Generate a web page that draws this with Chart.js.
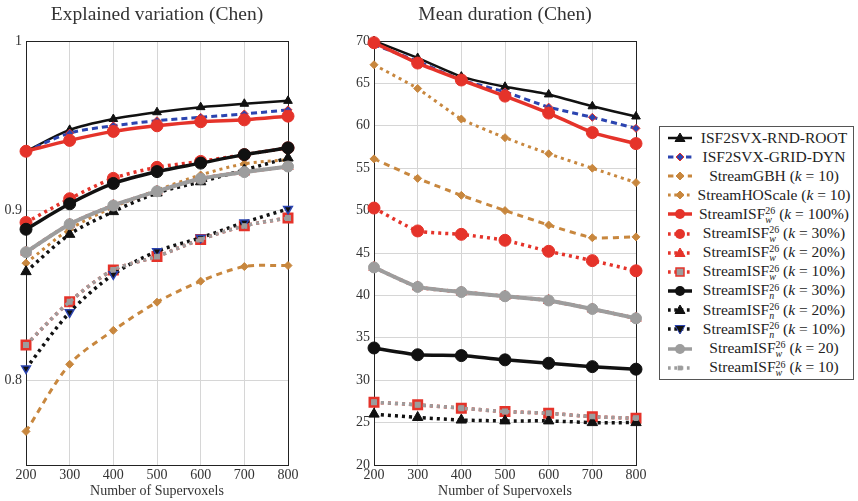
<!DOCTYPE html>
<html>
<head>
<meta charset="utf-8">
<script src="https://cdn.jsdelivr.net/npm/chart.js@4.4.0/dist/chart.umd.min.js"></script>
<style>
body{margin:0;width:858px;height:501px;background:#fff;position:relative;overflow:hidden;font-family:"Liberation Serif",serif;}
.wrap{position:absolute;top:0;height:501px;}
#legend{position:absolute;left:659px;top:126px;width:193px;border:1px solid #555;background:#fff;z-index:2;padding:1px 0 2px 0;}
.row{height:19.2px;display:flex;align-items:center;}
.row svg{margin-left:7px;flex:none;}
.row .t{flex:1;text-align:center;font-size:15.5px;color:#222;white-space:nowrap;padding-left:2px;}
.ss{display:inline-block;vertical-align:-4px;font-size:10px;line-height:8.5px;text-align:left;}
.ss i{display:block;}
.ss .up{font-style:normal;}
</style>
</head>
<body>
<div class="wrap" style="left:0;width:314px;"><canvas id="varChart" width="314" height="501"></canvas></div>
<div class="wrap" style="left:338px;width:334px;"><canvas id="durChart" width="334" height="501"></canvas></div>
<div id="legend"></div>
<script>
// x values and tick labels
let supervoxels = [200, 300, 400, 500, 600, 700, 800];
let varTicks = [0.8, 0.9, 1];
let durTicks = [20, 25, 30, 35, 40, 45, 50, 55, 60, 65, 70];

let seriesNames = [
    'ISF2SVX-RND-ROOT', 'ISF2SVX-GRID-DYN', 'StreamGBH (k = 10)', 'StreamHOScale (k = 10)',
    'StreamISF_w^26 (k = 100%)', 'StreamISF_w^26 (k = 30%)', 'StreamISF_w^26 (k = 20%)', 'StreamISF_w^26 (k = 10%)',
    'StreamISF_n^26 (k = 30%)', 'StreamISF_n^26 (k = 20%)', 'StreamISF_n^26 (k = 10%)',
    'StreamISF_w^26 (k = 20)', 'StreamISF_w^26 (k = 10)'
];

// explained variation (left)
let varRndRoot = [0.935, 0.9476, 0.954, 0.958, 0.961, 0.963, 0.9647];
let varGridDyn = [0.935, 0.9457, 0.950, 0.953, 0.955, 0.957, 0.9594];
let varGbh = [0.7698, 0.8094, 0.8294, 0.846, 0.8584, 0.867, 0.8676];
let varHoScale = [0.869, 0.889, 0.902, 0.912, 0.921, 0.9276, 0.930];
let varIsfW100 = [0.935, 0.9414, 0.9467, 0.950, 0.9524, 0.9535, 0.9557];
let varIsfW30 = [0.893, 0.907, 0.919, 0.9255, 0.929, 0.933, 0.937];
let varIsfW20 = [0.8755, 0.892, 0.903, 0.9114, 0.9188, 0.9227, 0.926];
let varIsfW10 = [0.8208, 0.8463, 0.865, 0.873, 0.883, 0.891, 0.8957];
let varIsfN30 = [0.889, 0.904, 0.916, 0.923, 0.928, 0.933, 0.937];
let varIsfN20 = [0.864, 0.886, 0.8994, 0.9104, 0.917, 0.924, 0.931];
let varIsfN10 = [0.8069, 0.840, 0.8624, 0.876, 0.884, 0.893, 0.901];
let varIsfWk20 = [0.8755, 0.892, 0.903, 0.9114, 0.9188, 0.9227, 0.926];
let varIsfWk10 = [0.8208, 0.8463, 0.865, 0.873, 0.883, 0.891, 0.8957];

// mean duration (right)
let durRndRoot = [70, 68, 65.8, 64.6, 63.7, 62.3, 61.1];
let durGridDyn = [69.6, 67.6, 65.4, 64.0, 62.2, 61.0, 59.7];
let durGbh = [56.1, 53.8, 51.8, 50.0, 48.3, 46.8, 46.9];
let durHoScale = [67.2, 64.4, 60.8, 58.6, 56.7, 55.0, 53.3];
let durIsfW100 = [69.8, 67.4, 65.4, 63.5, 61.5, 59.2, 57.9];
let durIsfW30 = [50.3, 47.6, 47.2, 46.5, 45.2, 44.1, 42.9];
let durIsfW20 = [43.3, 41.0, 40.4, 39.9, 39.4, 38.4, 37.3];
let durIsfW10 = [27.4, 27.1, 26.7, 26.3, 26.1, 25.7, 25.5];
let durIsfN30 = [33.8, 33.0, 32.9, 32.4, 32.0, 31.6, 31.3];
let durIsfN20 = [26.0, 25.6, 25.3, 25.2, 25.2, 25.0, 25.0];
let durIsfN10 = [null, null, null, null, null, null, null]; // not visible in the duration plot
let durIsfWk20 = [43.3, 41.0, 40.4, 39.9, 39.4, 38.4, 37.3];
let durIsfWk10 = [27.4, 27.1, 26.7, 26.3, 26.1, 25.7, 25.5];

let variation = [varRndRoot, varGridDyn, varGbh, varHoScale, varIsfW100, varIsfW30, varIsfW20,
    varIsfW10, varIsfN30, varIsfN20, varIsfN10, varIsfWk20, varIsfWk10];
let duration = [durRndRoot, durGridDyn, durGbh, durHoScale, durIsfW100, durIsfW30, durIsfW20,
    durIsfW10, durIsfN30, durIsfN20, durIsfN10, durIsfWk20, durIsfWk10];

const BLACK = '#111111', BLUE = '#2b44b0', BROWN = '#c8873e', RED = '#e5332a', GRAY = '#9d9d9d';

let styles = [
    {color: BLACK, dash: [], width: 2.5, point: 'triangle', r: 5},
    {color: BLUE, dash: [6, 4], width: 3, point: 'rectRot', r: 4, pborder: RED},
    {color: BROWN, dash: [6, 5], width: 3, point: 'rectRot', r: 4},
    {color: BROWN, dash: [3, 4], width: 3, point: 'rectRot', r: 4},
    {color: RED, dash: [], width: 3.5, point: 'circle', r: 6},
    {color: RED, dash: [3, 4], width: 3.5, point: 'circle', r: 6},
    {color: RED, dash: [3, 4], width: 3.5, point: 'triangle', r: 6},
    {color: RED, dash: [3, 4], width: 3.5, point: 'rect', r: 6, fill: GRAY, pbw: 2.5},
    {color: BLACK, dash: [], width: 3.5, point: 'circle', r: 6},
    {color: BLACK, dash: [3, 4], width: 3.5, point: 'triangle', r: 6},
    {color: BLACK, dash: [3, 4], width: 3.5, point: 'triangle', r: 5, rot: 180, fill: BLACK, pborder: BLUE, pbw: 1.5},
    {color: GRAY, dash: [], width: 4, point: 'circle', r: 5.5},
    {color: GRAY, dash: [3, 4], width: 3.5, point: 'rect', r: 3}
];

function buildSets(values, tension) {
    return values.map(function (vals, i) {
        let s = styles[i];
        return {
            label: seriesNames[i],
            data: supervoxels.map((x, j) => ({x: x, y: vals[j]})),
            borderColor: s.color,
            borderWidth: s.width,
            borderDash: s.dash,
            pointStyle: s.point,
            pointRadius: s.r,
            pointRotation: s.rot || 0,
            pointBackgroundColor: s.fill || s.color,
            pointBorderColor: s.pborder || s.color,
            pointBorderWidth: s.pbw || 1,
            tension: tension,
            clip: false,
            order: styles.length - i
        };
    });
}

let framePlugin = {
    id: 'frame',
    beforeDatasetsDraw(chart) {
        let a = chart.chartArea, ctx = chart.ctx;
        ctx.save();
        ctx.strokeStyle = '#222';
        ctx.lineWidth = 1;
        ctx.strokeRect(Math.round(a.left) + 0.5, Math.round(a.top) + 0.5, Math.round(a.right - a.left), Math.round(a.bottom - a.top));
        ctx.restore();
    }
};

function makeChart(id, title, values, yMin, yMax, yTicks, yWidth, padRight, tension) {
    let font = {family: 'Liberation Serif', size: 14};
    return new Chart(document.getElementById(id), {
        type: 'line',
        data: {datasets: buildSets(values, tension)},
        plugins: [framePlugin],
        options: {
            responsive: false,
            animation: false,
            devicePixelRatio: 1,
            layout: {padding: {left: 0, right: padRight, top: 0, bottom: 0}},
            plugins: {
                legend: {display: false},
                tooltip: {enabled: false},
                title: {
                    display: true, text: title, color: '#333', fullSize: false,
                    font: {family: 'Liberation Serif', size: 19.5, weight: 'normal'},
                    padding: {top: 3, bottom: 14.6}
                }
            },
            scales: {
                x: {
                    type: 'linear', min: 200, max: 800,
                    afterBuildTicks: s => { s.ticks = supervoxels.map(v => ({value: v})); },
                    afterFit: s => { s.height = 36; },
                    ticks: {font: font, color: '#333', padding: 2, maxRotation: 0},
                    grid: {color: '#d6d6d6', drawTicks: false},
                    border: {display: false},
                    title: {display: true, text: 'Number of Supervoxels', color: '#333',
                        font: {family: 'Liberation Serif', size: 14}, padding: {top: 0, bottom: 1}}
                },
                y: {
                    min: yMin, max: yMax,
                    afterBuildTicks: s => { s.ticks = yTicks.map(v => ({value: v})); },
                    afterFit: s => { s.width = yWidth; },
                    ticks: {font: font, color: '#333', padding: 4, callback: v => String(v)},
                    grid: {color: '#d6d6d6', drawTicks: false},
                    border: {display: false}
                }
            }
        }
    });
}

makeChart('varChart', 'Explained variation (Chen)', variation, 0.75, 1, varTicks, 26, 26, 0.3);
makeChart('durChart', 'Mean duration (Chen)', duration, 20, 70, durTicks, 36, 36, 0.15);

// legend with sub/superscripts
function sampleSvg(s) {
    let dash = s.dash.length ? ' stroke-dasharray="' + s.dash.map(d => d * 0.9).join(',') + '"' : '';
    let f = s.fill || s.color, b = s.pborder || s.color;
    let r = Math.min(s.r, 5), m = '';
    if (s.point === 'circle') m = '<circle cx="13" cy="6" r="' + r + '" fill="' + f + '"/>';
    else if (s.point === 'rect') m = '<rect x="' + (13 - r * 0.8) + '" y="' + (6 - r * 0.8) + '" width="' + r * 1.6 + '" height="' + r * 1.6 + '" fill="' + f + '" stroke="' + b + '" stroke-width="' + (s.pbw ? 1.5 : 0) + '"/>';
    else if (s.point === 'rectRot') m = '<polygon points="13,' + (6 - r) + ' ' + (13 + r) + ',6 13,' + (6 + r) + ' ' + (13 - r) + ',6" fill="' + f + '" stroke="' + b + '"/>';
    else if (s.point === 'triangle') {
        let d = s.rot ? -1 : 1;
        m = '<polygon points="13,' + (6 - d * r) + ' ' + (13 + r) + ',' + (6 + d * r * 0.7) + ' ' + (13 - r) + ',' + (6 + d * r * 0.7) + '" fill="' + f + '" stroke="' + b + '"/>';
    }
    return '<svg width="26" height="12"><line x1="1" y1="6" x2="25" y2="6" stroke="' + s.color + '" stroke-width="' + Math.min(s.width, 3.5) + '"' + dash + '/>' + m + '</svg>';
}

function labelHtml(name) {
    let m = name.match(/^StreamISF_(\w)\^(\d+) \(k = (.*)\)$/);
    if (m) {
        return 'StreamISF<span class="ss"><i class="up">' + m[2] + '</i><i>' + m[1] + '</i></span> (<i>k</i> = ' + m[3] + ')';
    }
    return name.replace('(k =', '(<i>k</i> =');
}

let legend = document.getElementById('legend');
seriesNames.forEach(function (name, i) {
    let row = document.createElement('div');
    row.className = 'row';
    row.innerHTML = sampleSvg(styles[i]) + '<span class="t">' + labelHtml(name) + '</span>';
    legend.appendChild(row);
});
</script>
</body>
</html>
